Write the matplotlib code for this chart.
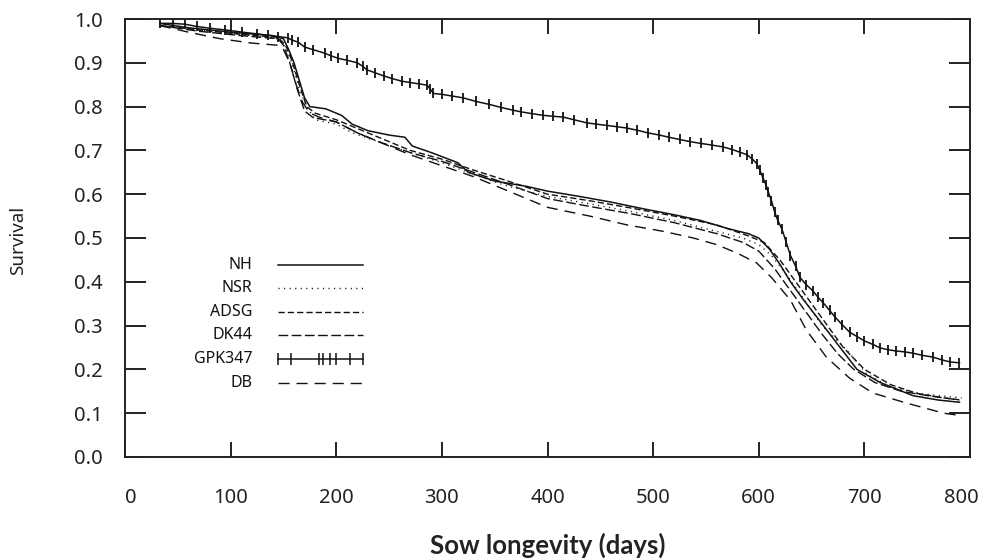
import matplotlib
matplotlib.use('Agg')
import matplotlib.pyplot as plt
import matplotlib.transforms as mtransforms

plt.rcParams['font.family'] = ['Noto Sans', 'DejaVu Sans']

# Kaplan-Meier survival curves
nh_days = [33, 60, 100, 140, 150, 155, 160, 165, 170, 175, 190, 205, 215, 230, 250, 265, 272, 290, 315, 325,
           350, 380, 400, 430, 460, 490, 520, 545, 570, 590, 600, 610, 620, 630, 642, 658, 677, 693, 715, 746,
           770, 790]
nh_surv = [0.99, 0.98, 0.97, 0.962, 0.955, 0.93, 0.90, 0.86, 0.82, 0.80, 0.795, 0.78, 0.76, 0.745, 0.735, 0.73,
           0.71, 0.695, 0.672, 0.65, 0.63, 0.618, 0.607, 0.595, 0.582, 0.567, 0.553, 0.54, 0.522, 0.51, 0.50,
           0.475, 0.44, 0.40, 0.36, 0.31, 0.25, 0.20, 0.17, 0.14, 0.13, 0.125]

nsr_days = [33, 70, 110, 145, 152, 158, 165, 172, 180, 200, 215, 240, 270, 300, 330, 360, 400, 440, 480, 520,
            560, 585, 600, 612, 625, 640, 660, 683, 702, 724, 750, 770, 792]
nsr_surv = [0.985, 0.975, 0.965, 0.955, 0.935, 0.90, 0.84, 0.80, 0.77, 0.76, 0.74, 0.72, 0.695, 0.672, 0.645,
            0.62, 0.595, 0.578, 0.56, 0.54, 0.515, 0.50, 0.485, 0.46, 0.42, 0.37, 0.30, 0.245, 0.19, 0.16, 0.146,
            0.14, 0.135]

adsg_days = [33, 70, 110, 145, 152, 158, 165, 172, 180, 200, 220, 240, 270, 300, 330, 360, 400, 440, 480, 520,
             560, 590, 605, 620, 635, 650, 665, 680, 700, 725, 750, 775, 792]
adsg_surv = [0.985, 0.975, 0.965, 0.958, 0.94, 0.905, 0.85, 0.80, 0.785, 0.77, 0.75, 0.73, 0.70, 0.68, 0.655,
             0.632, 0.60, 0.585, 0.568, 0.55, 0.53, 0.505, 0.49, 0.45, 0.40, 0.35, 0.30, 0.25, 0.20, 0.165, 0.145,
             0.135, 0.13]

dk44_days = [33, 70, 110, 145, 150, 156, 163, 170, 178, 200, 220, 240, 270, 300, 330, 360, 400, 440, 480, 520,
             560, 585, 600, 615, 630, 645, 660, 675, 690, 710, 735, 760, 790]
dk44_surv = [0.985, 0.972, 0.962, 0.955, 0.94, 0.90, 0.84, 0.79, 0.775, 0.765, 0.74, 0.72, 0.695, 0.675, 0.65,
             0.625, 0.59, 0.572, 0.555, 0.535, 0.51, 0.49, 0.47, 0.43, 0.38, 0.33, 0.28, 0.235, 0.20, 0.17, 0.15,
             0.14, 0.13]

db_days = [33, 60, 90, 120, 145, 150, 156, 162, 168, 175, 185, 200, 220, 245, 270, 300, 330, 360, 400, 440,
           475, 510, 538, 560, 580, 598, 612, 630, 645, 664, 686, 708, 740, 775, 790]
db_surv = [0.985, 0.97, 0.955, 0.945, 0.94, 0.93, 0.90, 0.85, 0.81, 0.785, 0.775, 0.765, 0.74, 0.715, 0.69,
           0.665, 0.64, 0.61, 0.57, 0.55, 0.53, 0.515, 0.50, 0.485, 0.465, 0.443, 0.41, 0.358, 0.29, 0.228,
           0.18, 0.146, 0.123, 0.10, 0.095]

gpk_days = [33, 45, 57, 68, 80, 95, 111, 125, 135, 145,
            154, 158, 164, 170, 178, 189, 195, 202, 210, 220,
            225, 229, 237, 245, 253, 262, 270, 278, 286, 289,
            292, 300, 310, 320, 332, 345, 356, 367, 375, 385,
            396, 405, 415, 425, 437, 446, 456, 466, 475, 485,
            495, 506, 515, 525, 535, 545, 556, 566, 575, 582,
            589, 594, 598, 601, 604, 607, 609, 612, 615, 618,
            622, 626, 630, 635, 639, 645, 651, 656, 661, 667,
            672, 679, 686, 693, 700, 708, 715, 722, 730, 738,
            746, 755, 765, 773, 781, 790]
gpk_surv = [0.99, 0.99, 0.988, 0.983, 0.979, 0.975, 0.97, 0.966, 0.963, 0.96,
            0.957, 0.952, 0.947, 0.936, 0.93, 0.922, 0.916, 0.91, 0.906, 0.90,
            0.892, 0.884, 0.877, 0.87, 0.864, 0.858, 0.855, 0.852, 0.849, 0.84,
            0.83, 0.828, 0.824, 0.82, 0.812, 0.805, 0.798, 0.792, 0.788, 0.784,
            0.78, 0.778, 0.776, 0.77, 0.763, 0.76, 0.757, 0.754, 0.751, 0.746,
            0.74, 0.735, 0.73, 0.725, 0.72, 0.716, 0.712, 0.708, 0.702, 0.696,
            0.69, 0.68, 0.67, 0.655, 0.637, 0.62, 0.605, 0.585, 0.56, 0.54,
            0.52, 0.49, 0.46, 0.435, 0.41, 0.393, 0.38, 0.365, 0.352, 0.335,
            0.32, 0.302, 0.285, 0.275, 0.265, 0.257, 0.249, 0.245, 0.242, 0.24,
            0.237, 0.232, 0.228, 0.222, 0.217, 0.215]

labels = ['NH', 'NSR', 'ADSG', 'DK44', 'GPK347', 'DB']
x_ticks = [0, 100, 200, 300, 400, 500, 600, 700, 800]
y_ticks = [0.0, 0.1, 0.2, 0.3, 0.4, 0.5, 0.6, 0.7, 0.8, 0.9, 1.0]

styles = {
    'NH': dict(ls='-', lw=1.1),
    'NSR': dict(ls=(0, (0.8, 3.2)), lw=1.0),
    'ADSG': dict(ls=(0, (4.5, 2.2)), lw=1.0),
    'DK44': dict(ls=(0, (7, 2.5)), lw=1.0),
    'GPK347': dict(ls='-', lw=1.1, marker='|', ms=7, mew=1.3),
    'DB': dict(ls=(0, (8, 5)), lw=1.0),
}
series = {
    'NH': (nh_days, nh_surv),
    'NSR': (nsr_days, nsr_surv),
    'ADSG': (adsg_days, adsg_surv),
    'DK44': (dk44_days, dk44_surv),
    'GPK347': (gpk_days, gpk_surv),
    'DB': (db_days, db_surv),
}

fig = plt.figure(figsize=(9.82, 5.59), dpi=100)
ax = fig.add_axes([0.1273, 0.1825, 0.8605, 0.7835])

for name in labels:
    d, s = series[name]
    ax.plot(d, s, color='#111111', **styles[name])

ax.set_xlim(0, 800)
ax.set_ylim(0, 1)
ax.set_xticks(x_ticks)
ax.set_yticks(y_ticks)
ax.set_yticklabels(['%.1f' % v for v in y_ticks])
ax.tick_params(axis='both', direction='in', colors='#222222', labelcolor='#222222', width=1.4,
               labelsize=14.5, top=True, right=True)
ax.tick_params(axis='x', length=11, pad=22)
ax.tick_params(axis='y', length=15, pad=16)
for sp in ax.spines.values():
    sp.set_linewidth(1.4)
    sp.set_color('#222222')

# end labels sit a little inside the box, as in the reference
xlabs = ax.get_xticklabels()
xlabs[0].set_transform(xlabs[0].get_transform() + mtransforms.ScaledTranslation(0.06, 0, fig.dpi_scale_trans))
xlabs[-1].set_transform(xlabs[-1].get_transform() + mtransforms.ScaledTranslation(-0.09, 0, fig.dpi_scale_trans))

# legend drawn by hand: labels right aligned, sample line to the right
leg_y = [0.438, 0.385, 0.331, 0.278, 0.224, 0.170]
gpk_ticks = [0.181, 0.196, 0.229, 0.234, 0.242, 0.250, 0.266, 0.282]
for name, yy in zip(labels, leg_y):
    ax.text(0.151, yy, name, transform=ax.transAxes, ha='right', va='center', fontsize=11.5, color='#111111')
    st = dict(styles[name])
    st.pop('marker', None)
    st.pop('ms', None)
    st.pop('mew', None)
    ax.plot([0.181, 0.282], [yy, yy], transform=ax.transAxes, color='#111111', **st)
    if name == 'GPK347':
        ax.plot(gpk_ticks, [yy] * len(gpk_ticks), transform=ax.transAxes, ls='none', marker='|',
                ms=8, mew=1.1, color='#111111')

fig.text(18 / 982, 1 - 240 / 559, 'Survival', rotation=90, ha='center', va='center', fontsize=13.5,
         color='#222222')
fig.text(0.5575, 1 - 545 / 559, 'Sow longevity (days)', ha='center', va='center', fontsize=18.5,
         family=['Lato', 'DejaVu Sans'], fontweight='bold', color='#222222')

fig.savefig('out.png', dpi=100)
